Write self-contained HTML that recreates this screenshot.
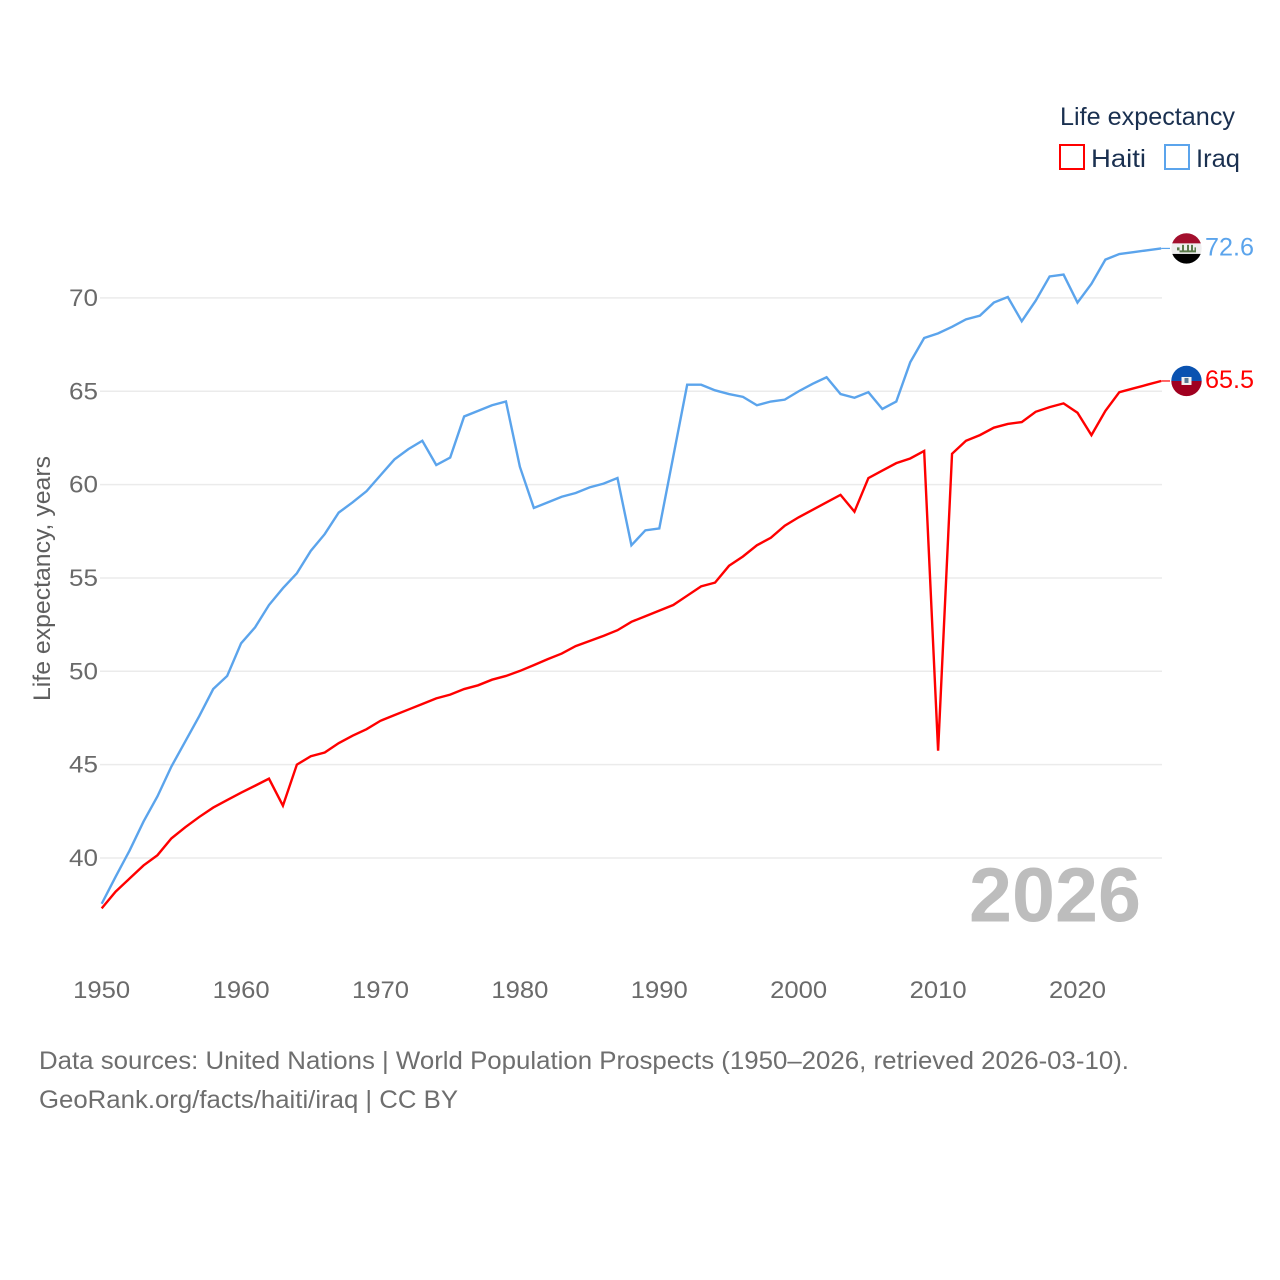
<!DOCTYPE html>
<html lang="en">
<head>
<meta charset="utf-8">
<title>Life expectancy: Haiti and Iraq</title>
<style>
html,body{margin:0;padding:0;background:#fff;}
svg{display:block;font-family:"Liberation Sans",sans-serif;}
</style>
</head>
<body>
<svg id="chart" xmlns="http://www.w3.org/2000/svg" width="1280" height="1280" viewBox="0 0 1280 1280">
  <defs>
    <clipPath id="flag-clip"><circle cx="0" cy="0" r="15.2"/></clipPath>
  </defs>
  <rect width="1280" height="1280" fill="#ffffff"/>
  <g id="grid"></g>
  <g id="yticks"></g>
  <g id="xticks"></g>
  <text transform="translate(50,701) rotate(-90)" font-size="24.5" fill="#5f5f5f" textLength="245" lengthAdjust="spacingAndGlyphs">Life expectancy, years</text>
  <text x="969" y="921.5" font-size="77" font-weight="bold" fill="#bdbdbd" textLength="172" lengthAdjust="spacingAndGlyphs">2026</text>
  <g id="series"></g>

  <g>
    <text x="1060" y="125" font-size="25" fill="#1a3050" textLength="175" lengthAdjust="spacingAndGlyphs">Life expectancy</text>
    <g>
      <rect x="1060" y="145" width="24" height="24" fill="#fff" stroke="#ff0000" stroke-width="2"/>
      <text x="1091" y="167" font-size="25" fill="#1a3050" textLength="55" lengthAdjust="spacingAndGlyphs">Haiti</text>
    </g>
    <g>
      <rect x="1165" y="145" width="24" height="24" fill="#fff" stroke="#5ba4ec" stroke-width="2"/>
      <text x="1196" y="167" font-size="25" fill="#1a3050" textLength="44" lengthAdjust="spacingAndGlyphs">Iraq</text>
    </g>
  </g>

  <g id="endmarks"></g>

  <g>
    <text x="39" y="1069" font-size="25" fill="#6e6e6e" textLength="1090" lengthAdjust="spacingAndGlyphs">Data sources: United Nations | World Population Prospects (1950–2026, retrieved 2026-03-10).</text>
    <text x="39" y="1108" font-size="25" fill="#6e6e6e" textLength="419" lengthAdjust="spacingAndGlyphs">GeoRank.org/facts/haiti/iraq | CC BY</text>
  </g>
</svg>
<script>
const years = [1950,1951,1952,1953,1954,1955,1956,1957,1958,1959,1960,1961,1962,1963,1964,1965,1966,1967,1968,1969,1970,1971,1972,1973,1974,1975,1976,1977,1978,1979,1980,1981,1982,1983,1984,1985,1986,1987,1988,1989,1990,1991,1992,1993,1994,1995,1996,1997,1998,1999,2000,2001,2002,2003,2004,2005,2006,2007,2008,2009,2010,2011,2012,2013,2014,2015,2016,2017,2018,2019,2020,2021,2022,2023,2024,2025,2026];
const haiti = [37.3,38.2,38.9,39.6,40.15,41.05,41.65,42.2,42.7,43.1,43.5,43.87,44.25,42.8,45,45.45,45.65,46.15,46.55,46.9,47.35,47.65,47.95,48.25,48.55,48.75,49.05,49.25,49.55,49.75,50.02,50.33,50.65,50.95,51.35,51.62,51.9,52.2,52.65,52.95,53.25,53.55,54.05,54.55,54.75,55.65,56.15,56.75,57.15,57.8,58.25,58.65,59.05,59.45,58.55,60.35,60.75,61.15,61.4,61.8,45.75,61.65,62.35,62.65,63.05,63.25,63.35,63.9,64.15,64.35,63.85,62.65,63.95,64.95,65.15,65.35,65.55];
const iraq = [37.55,39,40.4,41.95,43.3,44.9,46.25,47.6,49.05,49.75,51.5,52.35,53.55,54.45,55.25,56.45,57.35,58.5,59.05,59.65,60.5,61.35,61.9,62.35,61.05,61.45,63.65,63.95,64.25,64.45,60.95,58.75,59.05,59.35,59.55,59.85,60.05,60.35,56.75,57.55,57.65,61.5,65.35,65.35,65.05,64.85,64.7,64.25,64.45,64.55,65,65.4,65.75,64.85,64.65,64.95,64.05,64.45,66.55,67.85,68.1,68.45,68.85,69.05,69.75,70.05,68.75,69.85,71.15,71.25,69.75,70.75,72.05,72.35,72.45,72.55,72.65];
const yTicks = [40,45,50,55,60,65,70];
const xTicks = [1950,1960,1970,1980,1990,2000,2010,2020];
const endLabels = ["65.5","72.6"];

const NS = "http://www.w3.org/2000/svg";
function xScale(year){ return 101.7 + (year - 1950) * 13.94; }
function yScale(value){ return 858 - (value - 40) * 18.67; }
function make(tag, attrs, parent){
  const el = document.createElementNS(NS, tag);
  for (const k in attrs) el.setAttribute(k, attrs[k]);
  parent.appendChild(el);
  return el;
}

const gridG = document.getElementById("grid");
const yG = document.getElementById("yticks");
yTicks.forEach(function(t){
  const line = make("line", {x1:100, x2:1162, y1:yScale(t), y2:yScale(t), stroke:"#ebebeb", "stroke-width":1.5}, gridG);
  
  
  const label = make("text", {x:98, y:yScale(t)+8, "text-anchor":"end", "font-size":24.5, fill:"#6a6a6a", textLength:29, lengthAdjust:"spacingAndGlyphs"}, yG);
  
  
  label.textContent = t;
});

const xG = document.getElementById("xticks");
xTicks.forEach(function(t){
  const label = make("text", {x:xScale(t), y:998, "text-anchor":"middle", "font-size":24.5, fill:"#6a6a6a", textLength:57, lengthAdjust:"spacingAndGlyphs"}, xG);
  
  
  label.textContent = t;
});

function pathFor(vals){
  return vals.map(function(v,i){
    return (i ? "L" : "M") + xScale(years[i]).toFixed(2) + " " + yScale(v).toFixed(2);
  }).join(" ");
}
const seriesG = document.getElementById("series");
const lineIraq = make("path", {d:pathFor(iraq), fill:"none", stroke:"#5ba4ec", "stroke-width":2.4, "stroke-linejoin":"miter"}, seriesG);


const lineHaiti = make("path", {d:pathFor(haiti), fill:"none", stroke:"#ff0000", "stroke-width":2.4, "stroke-linejoin":"miter"}, seriesG);



const endG = document.getElementById("endmarks");

function drawConnector(val, color, name){
  const c = make("line", {x1:xScale(2026), x2:1170, y1:yScale(val), y2:yScale(val), stroke:color, "stroke-width":1.2}, endG);
  
  
}
drawConnector(haiti[haiti.length-1], "#ff0000", 'connector-haiti');
drawConnector(iraq[iraq.length-1], "#5ba4ec", 'connector-iraq');

function drawFlag(cy, name){
  const g = make("g", {transform:"translate(1186.5," + cy + ")", "clip-path":"url(#flag-clip)"}, endG);
  
  
  return g;
}

const iraqY = yScale(iraq[iraq.length-1]);
const fi = drawFlag(iraqY, 'flag-iraq');
make("rect", {x:-16, y:-16, width:32, height:11, fill:"#a30f2d"}, fi);
make("rect", {x:-16, y:-5, width:32, height:10.5, fill:"#efefef"}, fi);
make("rect", {x:-16, y:5.5, width:32, height:11, fill:"#000000"}, fi);
make("path", {d:"M-9.5 4 H9.5 V2 H-9.5 Z M-9.5 4 V-1 H-7 V4 Z M-4.5 2 V-3.5 H-2.5 V2 Z M0.5 2 V-3.5 H2.5 V2 Z M4.5 2 V-3.5 H6.5 V2 Z M8 2 V-1 H9.5 V2 Z", fill:"#5a7a4a"}, fi);

const haitiY = yScale(haiti[haiti.length-1]);
const fh = drawFlag(haitiY, 'flag-haiti');
make("rect", {x:-16, y:-16, width:32, height:16, fill:"#0a52b0"}, fh);
make("rect", {x:-16, y:0, width:32, height:16, fill:"#a00020"}, fh);
make("rect", {x:-5, y:-4, width:10, height:8, fill:"#f2f2f2"}, fh);
make("rect", {x:-2, y:-3, width:4, height:5, fill:"#5a7a95"}, fh);

const labelHaiti = make("text", {x:1205, y:haitiY+7, "font-size":25, fill:"#ff0000", textLength:49, lengthAdjust:"spacingAndGlyphs"}, endG);


labelHaiti.textContent = endLabels[0];
const labelIraq = make("text", {x:1205, y:iraqY+7, "font-size":25, fill:"#5ba4ec", textLength:49, lengthAdjust:"spacingAndGlyphs"}, endG);


labelIraq.textContent = endLabels[1];
</script>
</body>
</html>
